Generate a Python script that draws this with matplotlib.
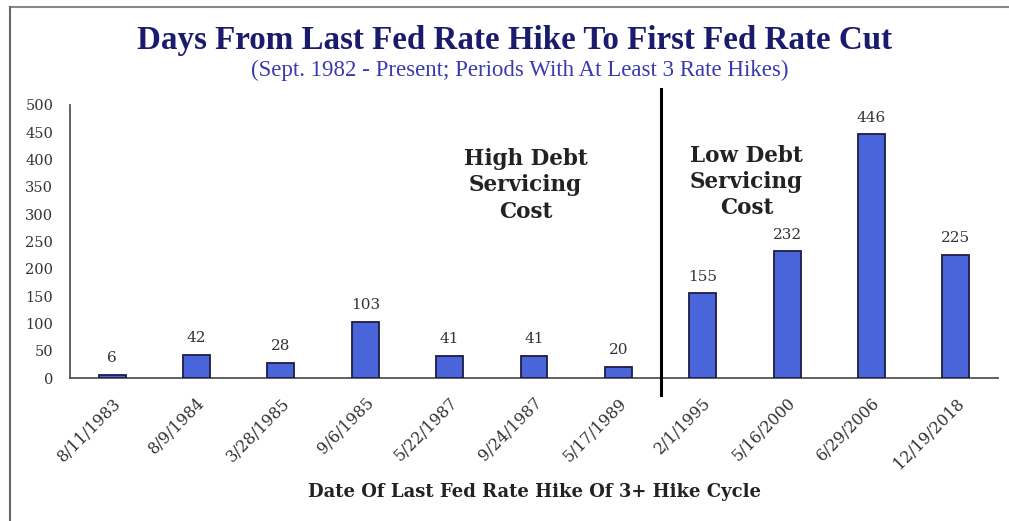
import matplotlib.pyplot as plt
from matplotlib.lines import Line2D

# 数据
dates = ['8/11/1983', '8/9/1984', '3/28/1985', '9/6/1985', '5/22/1987', '9/24/1987',
         '5/17/1989', '2/1/1995', '5/16/2000', '6/29/2006', '12/19/2018']
days = [6, 42, 28, 103, 41, 41, 20, 155, 232, 446, 225]
yticks = [0, 50, 100, 150, 200, 250, 300, 350, 400, 450, 500]
split = 6.5  # 高/低债务成本的分界

serif = 'DejaVu Serif'
title_font = 'Liberation Serif'

fig = plt.figure(figsize=(10.09, 5.21), dpi=100)
ax = fig.add_axes([70 / 1009, 1 - 378 / 521, 928 / 1009, 273 / 521])

x = list(range(len(days)))
ax.bar(x, days, width=0.32, color='#4a64d9', edgecolor='#1c1c48', linewidth=1.3, zorder=3)

# 数值标签
for i in range(len(x)):
    ax.annotate(str(days[i]), (x[i], days[i]), xytext=(0, 7), textcoords='offset points',
                ha='center', va='bottom', fontsize=11, family=serif, color='#333333')

ax.set_xlim(-0.5, 10.5)
ax.set_ylim(0, 500)
ax.set_yticks(yticks)
ax.set_yticklabels(yticks, family=serif, fontsize=10.5, color='#333333')
ax.set_xticks(x)
ax.set_xticklabels(dates, rotation=45, ha='right', rotation_mode='anchor',
                   family=serif, fontsize=11.5, color='#333333')
ax.tick_params(axis='both', length=0)
ax.tick_params(axis='x', pad=12)
ax.tick_params(axis='y', pad=12)

for s in ['top', 'right']:
    ax.spines[s].set_visible(False)
for s in ['left', 'bottom']:
    ax.spines[s].set_color('#555555')
    ax.spines[s].set_linewidth(1.3)

# 分界线
ax.plot([split, split], [-31, 529], color='black', linewidth=2.2, clip_on=False, zorder=4)

ax.text(4.9, 353, 'High Debt\nServicing\nCost', ha='center', va='center', family=serif,
        fontsize=15.5, fontweight='bold', color='#222222', linespacing=1.25)
ax.text(7.52, 359, 'Low Debt\nServicing\nCost', ha='center', va='center', family=serif,
        fontsize=15.5, fontweight='bold', color='#222222', linespacing=1.25)

ax.set_xlabel('Date Of Last Fed Rate Hike Of 3+ Hike Cycle', family=serif, fontsize=13,
              fontweight='bold', color='#222222', labelpad=8)

# 标题
fig.text(515 / 1009, 1 - 40 / 521, 'Days From Last Fed Rate Hike To First Fed Rate Cut',
         ha='center', va='center', family=title_font, fontsize=23.8, fontweight='bold',
         color='#1b1b6e')
fig.text(520 / 1009, 1 - 70 / 521, '(Sept. 1982 - Present; Periods With At Least 3 Rate Hikes)',
         ha='center', va='center', family=title_font, fontsize=16.5, color='#3a3ab0')

# 外框
fig.add_artist(Line2D([10 / 1009, 1], [1 - 7 / 521, 1 - 7 / 521], color='#888888', linewidth=1.5))
fig.add_artist(Line2D([10 / 1009, 10 / 1009], [0, 1 - 7 / 521], color='#666666', linewidth=1.5))

plt.savefig('out.png', dpi=100)
